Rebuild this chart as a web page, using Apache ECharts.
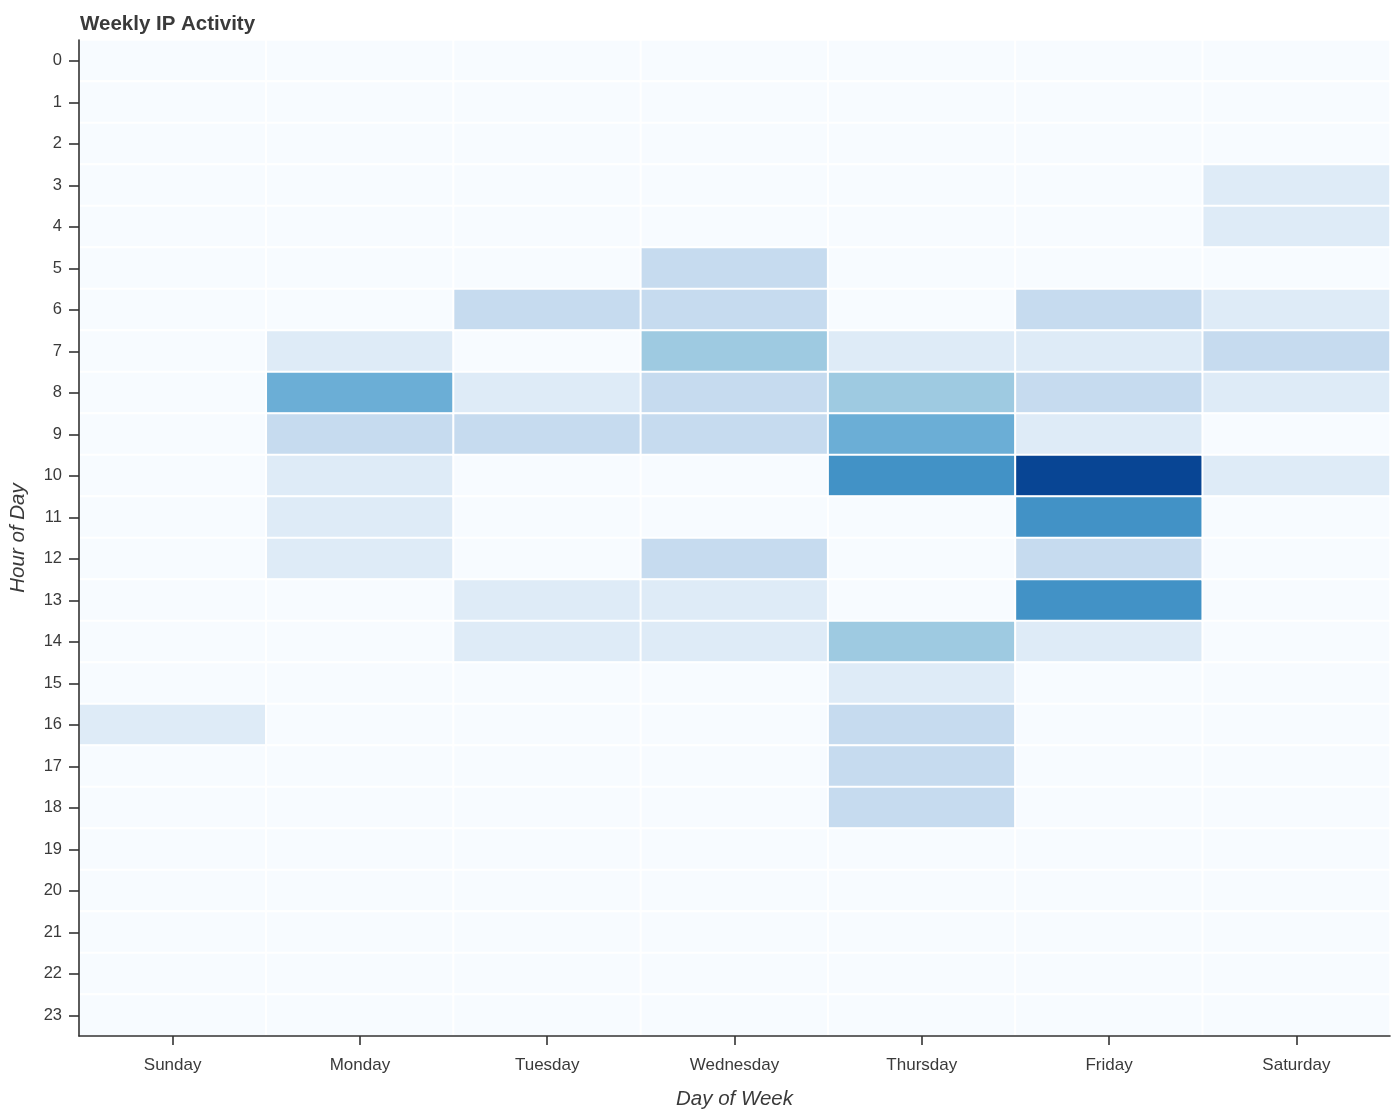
<!DOCTYPE html>
<html>
<head>
<meta charset="utf-8">
<script src="https://cdn.jsdelivr.net/npm/echarts@6/dist/echarts.min.js"></script>
<style>
html,body{margin:0;padding:0;background:#fff;}
#chart{width:1394px;height:1111px;}
</style>
</head>
<body>
<div id="chart"></div>
<script>
const days = ['Sunday','Monday','Tuesday','Wednesday','Thursday','Friday','Saturday'];
const hours = ['0','1','2','3','4','5','6','7','8','9','10','11','12','13','14','15','16','17','18','19','20','21','22','23'];
// counts per hour 0..23
const sunday    = [0,0,0,0,0,0,0,0,0,0,0,0,0,0,0,0,1,0,0,0,0,0,0,0];
const monday    = [0,0,0,0,0,0,0,1,4,2,1,1,1,0,0,0,0,0,0,0,0,0,0,0];
const tuesday   = [0,0,0,0,0,0,2,0,1,2,0,0,0,1,1,0,0,0,0,0,0,0,0,0];
const wednesday = [0,0,0,0,0,2,2,3,2,2,0,0,2,1,1,0,0,0,0,0,0,0,0,0];
const thursday  = [0,0,0,0,0,0,0,1,3,4,5,0,0,0,3,1,2,2,2,0,0,0,0,0];
const friday    = [0,0,0,0,0,0,2,1,2,1,7,5,2,5,1,0,0,0,0,0,0,0,0,0];
const saturday  = [0,0,0,1,1,0,1,2,1,0,1,0,0,0,0,0,0,0,0,0,0,0,0,0];
const palette = ['#f7fbff','#deebf7','#c6dbef','#9ecae1','#6baed6','#4292c6','#2171b5','#084594'];

const byDay = [sunday, monday, tuesday, wednesday, thursday, friday, saturday];
const data = [];
byDay.forEach((arr, d) => arr.forEach((v, h) => data.push([d, h, v])));

const font = 'Liberation Sans, Helvetica, Arial, sans-serif';
const chart = echarts.init(document.getElementById('chart'));
chart.setOption({
  animation: false,
  backgroundColor: '#fff',
  title: {
    text: 'Weekly IP Activity',
    left: 75, top: 9,
    textStyle: {fontFamily: font, fontSize: 20.5, fontWeight: 'bold', color: '#3a3a3a'}
  },
  grid: {left: 79, right: 4, top: 40, bottom: 75, containLabel: false, outerBoundsMode: 'none',
         show: true, borderColor: '#ececec', borderWidth: 1, backgroundColor: '#f7fbff'},
  xAxis: {
    type: 'category', data: days, position: 'bottom', z: 5,
    axisLine: {show: true, lineStyle: {color: '#333', width: 1.6}},
    axisTick: {show: true, alignWithLabel: true, length: 9, lineStyle: {color: '#333', width: 1.6}},
    axisLabel: {fontFamily: font, fontSize: 17, color: '#3a3a3a', margin: 21},
    splitLine: {show: false},
    name: 'Day of Week', nameLocation: 'middle', nameGap: 53,
    nameTextStyle: {fontFamily: font, fontSize: 20.5, fontStyle: 'italic', color: '#3a3a3a'}
  },
  yAxis: {
    type: 'category', data: hours, inverse: true, z: 5,
    axisLine: {show: true, lineStyle: {color: '#333', width: 1.6}},
    axisTick: {show: true, alignWithLabel: true, length: 10, lineStyle: {color: '#333', width: 1.6}},
    axisLabel: {fontFamily: font, fontSize: 16.5, color: '#3a3a3a', margin: 17},
    splitLine: {show: false},
    name: 'Hour of Day', nameLocation: 'middle', nameGap: 51, nameRotate: 90,
    nameTextStyle: {fontFamily: font, fontSize: 20.5, fontStyle: 'italic', color: '#3a3a3a'}
  },
  visualMap: {
    type: 'piecewise', show: false, dimension: 2,
    pieces: palette.map((c, i) => ({value: i, color: c}))
  },
  series: [{
    type: 'heatmap',
    data: data,
    itemStyle: {borderColor: '#ffffff', borderWidth: 2},
    emphasis: {disabled: true}
  }]
});
</script>
</body>
</html>
